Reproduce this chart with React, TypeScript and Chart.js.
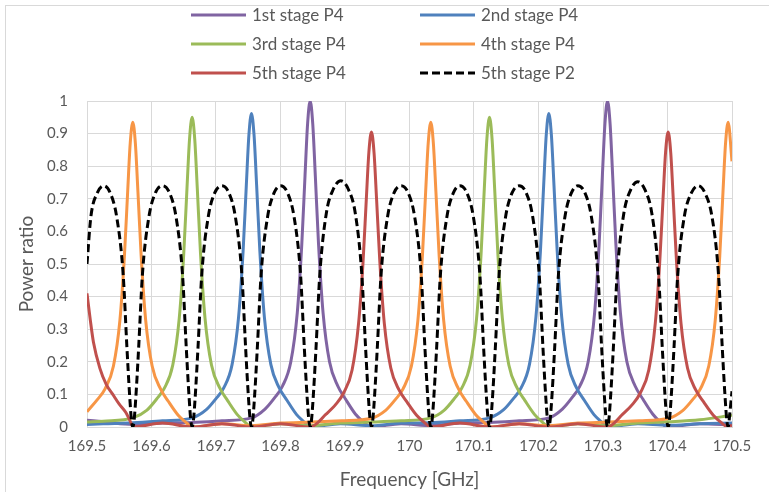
import React, { useEffect, useRef } from "react";
import { Chart, registerables } from "chart.js";

Chart.register(...registerables);

// ---------- data ----------
const xTickLabels = ["169.5", "169.6", "169.7", "169.8", "169.9", "170", "170.1", "170.2", "170.3", "170.4", "170.5"];
const yTickLabels = ["0", "0.1", "0.2", "0.3", "0.4", "0.5", "0.6", "0.7", "0.8", "0.9", "1"];

const seriesLabels = ["1st stage P4", "2nd stage P4", "3rd stage P4", "4th stage P4", "5th stage P4", "5th stage P2"];

const stage1P4: [number, number][] = [
  [169.5, 0.021], [169.53, 0.015], [169.571, 0.008], [169.617, 0.012], [169.663, 0.014], [169.709, 0.019],
  [169.755, 0.028], [169.776, 0.055], [169.791, 0.09], [169.803, 0.125], [169.816, 0.2], [169.826, 0.35],
  [169.833, 0.56], [169.838, 0.77], [169.842, 0.93], [169.846, 1], [169.85, 0.93], [169.854, 0.77],
  [169.859, 0.56], [169.866, 0.35], [169.876, 0.2], [169.889, 0.125], [169.901, 0.085], [169.916, 0.04],
  [169.929, 0.015], [169.94, 0], [169.987, 0.01], [170.033, 0.004], [170.078, 0.012], [170.124, 0.014],
  [170.17, 0.019], [170.216, 0.028], [170.237, 0.055], [170.252, 0.09], [170.264, 0.125], [170.277, 0.2],
  [170.287, 0.35], [170.294, 0.56], [170.299, 0.77], [170.303, 0.93], [170.307, 1], [170.311, 0.93],
  [170.315, 0.77], [170.32, 0.56], [170.327, 0.35], [170.337, 0.2], [170.35, 0.125], [170.362, 0.085],
  [170.377, 0.04], [170.389, 0.015], [170.4, 0], [170.45, 0.01], [170.5, 0.006],
];

const stage2P4: [number, number][] = [
  [169.5, 0.008], [169.525, 0.01], [169.571, 0.013], [169.617, 0.019], [169.663, 0.028], [169.685, 0.053],
  [169.7, 0.087], [169.712, 0.12], [169.725, 0.192], [169.735, 0.337], [169.742, 0.539], [169.747, 0.741],
  [169.751, 0.895], [169.755, 0.962], [169.759, 0.895], [169.763, 0.741], [169.768, 0.539], [169.775, 0.337],
  [169.785, 0.192], [169.798, 0.12], [169.81, 0.082], [169.825, 0.038], [169.837, 0.015], [169.846, 0],
  [169.893, 0.01], [169.941, 0.004], [169.987, 0.012], [170.033, 0.013], [170.078, 0.019], [170.124, 0.028],
  [170.146, 0.053], [170.161, 0.087], [170.173, 0.12], [170.186, 0.192], [170.196, 0.337], [170.203, 0.539],
  [170.208, 0.741], [170.212, 0.895], [170.216, 0.962], [170.22, 0.895], [170.224, 0.741], [170.229, 0.539],
  [170.236, 0.337], [170.246, 0.192], [170.259, 0.12], [170.271, 0.082], [170.286, 0.038], [170.298, 0.015],
  [170.307, 0], [170.354, 0.01], [170.401, 0.005], [170.45, 0.01], [170.5, 0.012],
];

const stage3P4: [number, number][] = [
  [169.5, 0.015], [169.525, 0.018], [169.571, 0.028], [169.593, 0.052], [169.608, 0.086], [169.62, 0.119],
  [169.633, 0.19], [169.643, 0.333], [169.65, 0.532], [169.655, 0.732], [169.659, 0.884], [169.663, 0.95],
  [169.667, 0.884], [169.671, 0.732], [169.676, 0.532], [169.683, 0.333], [169.693, 0.19], [169.706, 0.119],
  [169.718, 0.081], [169.733, 0.038], [169.745, 0.015], [169.755, 0], [169.8, 0.01], [169.846, 0.004],
  [169.893, 0.012], [169.941, 0.015], [169.987, 0.019], [170.033, 0.028], [170.054, 0.052], [170.069, 0.086],
  [170.081, 0.119], [170.094, 0.19], [170.104, 0.333], [170.111, 0.532], [170.116, 0.732], [170.12, 0.884],
  [170.124, 0.95], [170.128, 0.884], [170.132, 0.732], [170.137, 0.532], [170.144, 0.333], [170.154, 0.19],
  [170.167, 0.119], [170.179, 0.081], [170.194, 0.038], [170.206, 0.015], [170.216, 0], [170.261, 0.01],
  [170.307, 0.004], [170.354, 0.012], [170.401, 0.016], [170.45, 0.022], [170.5, 0.036],
];

const stage4P4: [number, number][] = [
  [169.5, 0.047], [169.516, 0.084], [169.528, 0.117], [169.541, 0.187], [169.551, 0.327], [169.558, 0.524],
  [169.563, 0.72], [169.567, 0.87], [169.571, 0.935], [169.575, 0.87], [169.579, 0.72], [169.584, 0.524],
  [169.591, 0.327], [169.601, 0.187], [169.614, 0.117], [169.626, 0.079], [169.641, 0.037], [169.653, 0.015],
  [169.663, 0], [169.709, 0.01], [169.755, 0.004], [169.8, 0.012], [169.849, 0.015], [169.895, 0.019],
  [169.941, 0.027], [169.963, 0.051], [169.978, 0.084], [169.99, 0.117], [170.003, 0.187], [170.013, 0.327],
  [170.02, 0.524], [170.025, 0.72], [170.029, 0.87], [170.033, 0.935], [170.037, 0.87], [170.041, 0.72],
  [170.046, 0.524], [170.053, 0.327], [170.063, 0.187], [170.076, 0.117], [170.088, 0.079], [170.103, 0.037],
  [170.115, 0.015], [170.124, 0], [170.17, 0.01], [170.216, 0.004], [170.261, 0.012], [170.31, 0.015],
  [170.356, 0.019], [170.402, 0.027], [170.424, 0.051], [170.439, 0.084], [170.451, 0.117], [170.464, 0.187],
  [170.474, 0.327], [170.481, 0.524], [170.486, 0.72], [170.49, 0.87], [170.494, 0.935], [170.5, 0.815],
];

const stage5P4: [number, number][] = [
  [169.5, 0.41], [169.505, 0.33], [169.51, 0.26], [169.52, 0.18], [169.53, 0.13], [169.54, 0.1],
  [169.55, 0.07], [169.56, 0.045], [169.566, 0.022], [169.572, 0], [169.617, 0.012], [169.663, 0],
  [169.709, 0.01], [169.755, 0], [169.8, 0.01], [169.846, 0], [169.871, 0.04], [169.886, 0.07],
  [169.898, 0.105], [169.911, 0.175], [169.921, 0.317], [169.928, 0.507], [169.933, 0.697], [169.937, 0.842],
  [169.941, 0.905], [169.945, 0.842], [169.949, 0.697], [169.954, 0.507], [169.961, 0.317], [169.971, 0.181],
  [169.984, 0.113], [169.996, 0.077], [170.011, 0.036], [170.023, 0.014], [170.033, 0], [170.078, 0.012],
  [170.124, 0], [170.17, 0.01], [170.216, 0], [170.261, 0.01], [170.307, 0], [170.331, 0.04],
  [170.346, 0.07], [170.358, 0.105], [170.371, 0.175], [170.381, 0.317], [170.388, 0.507], [170.393, 0.697],
  [170.397, 0.842], [170.401, 0.905], [170.405, 0.842], [170.409, 0.697], [170.414, 0.507], [170.421, 0.317],
  [170.431, 0.181], [170.444, 0.113], [170.456, 0.077], [170.471, 0.036], [170.483, 0.014], [170.494, 0],
  [170.5, 0.006],
];

const stage5P2: [number, number][] = [
  [169.5, 0.5], [169.506, 0.645], [169.516, 0.718], [169.526, 0.74], [169.536, 0.718], [169.546, 0.645],
  [169.556, 0.47], [169.562, 0.24], [169.566, 0.1], [169.569, 0.02], [169.571, 0],
  [169.573, 0.02], [169.576, 0.1], [169.58, 0.24], [169.586, 0.47], [169.596, 0.645], [169.606, 0.718],
  [169.617, 0.74], [169.628, 0.718], [169.638, 0.645], [169.648, 0.47], [169.654, 0.24], [169.658, 0.1],
  [169.661, 0.02], [169.663, 0],
  [169.665, 0.02], [169.668, 0.1], [169.672, 0.24], [169.678, 0.47], [169.688, 0.645], [169.698, 0.718],
  [169.709, 0.74], [169.72, 0.718], [169.73, 0.645], [169.74, 0.47], [169.746, 0.24], [169.75, 0.1],
  [169.753, 0.02], [169.755, 0],
  [169.757, 0.02], [169.76, 0.1], [169.764, 0.24], [169.77, 0.47], [169.78, 0.645], [169.79, 0.718],
  [169.8, 0.74], [169.811, 0.718], [169.821, 0.645], [169.831, 0.47], [169.837, 0.24], [169.841, 0.1],
  [169.844, 0.02], [169.846, 0],
  [169.848, 0.02], [169.851, 0.1], [169.855, 0.24], [169.861, 0.47], [169.871, 0.655], [169.882, 0.73],
  [169.8935, 0.755], [169.905, 0.73], [169.916, 0.655], [169.926, 0.47], [169.932, 0.24], [169.936, 0.1],
  [169.939, 0.02], [169.941, 0],
  [169.943, 0.02], [169.946, 0.1], [169.95, 0.24], [169.956, 0.47], [169.966, 0.645], [169.976, 0.718],
  [169.987, 0.74], [169.998, 0.718], [170.008, 0.645], [170.018, 0.47], [170.024, 0.24], [170.028, 0.1],
  [170.031, 0.02], [170.033, 0],
  [170.035, 0.02], [170.038, 0.1], [170.042, 0.24], [170.048, 0.47], [170.058, 0.645], [170.068, 0.718],
  [170.078, 0.74], [170.089, 0.718], [170.099, 0.645], [170.109, 0.47], [170.115, 0.24], [170.119, 0.1],
  [170.122, 0.02], [170.124, 0],
  [170.126, 0.02], [170.129, 0.1], [170.133, 0.24], [170.139, 0.47], [170.149, 0.645], [170.159, 0.718],
  [170.17, 0.74], [170.181, 0.718], [170.191, 0.645], [170.201, 0.47], [170.207, 0.24], [170.211, 0.1],
  [170.214, 0.02], [170.216, 0],
  [170.218, 0.02], [170.221, 0.1], [170.225, 0.24], [170.231, 0.47], [170.241, 0.645], [170.251, 0.718],
  [170.261, 0.74], [170.272, 0.718], [170.282, 0.645], [170.292, 0.47], [170.298, 0.24], [170.302, 0.1],
  [170.305, 0.02], [170.307, 0],
  [170.309, 0.02], [170.312, 0.1], [170.316, 0.24], [170.322, 0.47], [170.332, 0.652], [170.343, 0.728],
  [170.354, 0.752], [170.365, 0.728], [170.376, 0.652], [170.386, 0.47], [170.392, 0.24], [170.396, 0.1],
  [170.399, 0.02], [170.401, 0],
  [170.403, 0.02], [170.406, 0.1], [170.41, 0.24], [170.416, 0.47], [170.426, 0.645], [170.437, 0.718],
  [170.4475, 0.74], [170.458, 0.718], [170.469, 0.645], [170.479, 0.47], [170.485, 0.24], [170.489, 0.1],
  [170.492, 0.02], [170.494, 0],
  [170.497, 0.05], [170.5, 0.11],
];

const seriesData = [stage1P4, stage2P4, stage3P4, stage4P4, stage5P4, stage5P2];
const seriesColors = ["#8064A2", "#4F81BD", "#9BBB59", "#F79646", "#C0504D", "#000000"];
const seriesDash: number[][] = [[], [], [], [], [], [8, 4]];

// ---------- styling ----------
const TEXT = "#595959";
const GRID = "#d9d9d9";
const FONT = "Lato, 'Open Sans', sans-serif";
const LEGEND_COL_X = [191, 420];
const LEGEND_ROW_Y = [15, 44, 73];

const legendPlugin = {
  id: "gridLegend",
  afterDraw(chart: any) {
    const ctx = chart.ctx;
    ctx.save();
    chart.data.datasets.forEach((ds: any, i: number) => {
      const x0 = LEGEND_COL_X[i % 2];
      const y = LEGEND_ROW_Y[Math.floor(i / 2)];
      ctx.strokeStyle = ds.borderColor;
      ctx.lineWidth = 3;
      ctx.setLineDash(ds.borderDash || []);
      ctx.beginPath();
      ctx.moveTo(x0, y);
      ctx.lineTo(x0 + 55, y);
      ctx.stroke();
      ctx.setLineDash([]);
      ctx.fillStyle = TEXT;
      ctx.font = `17px ${FONT}`;
      ctx.textBaseline = "middle";
      ctx.textAlign = "left";
      ctx.fillText(ds.label, x0 + 61, y + 1);
    });
    ctx.restore();
  },
};

export default function App() {
  const ref = useRef<HTMLCanvasElement | null>(null);

  useEffect(() => {
    if (!ref.current) return;
    const chart = new Chart(ref.current, {
      type: "line",
      data: {
        datasets: seriesData.map((pts, i) => ({
          label: seriesLabels[i],
          data: pts.map(([x, y]) => ({ x, y })),
          borderColor: seriesColors[i],
          backgroundColor: seriesColors[i],
          borderWidth: 3,
          borderDash: seriesDash[i],
          pointRadius: 0,
          fill: false,
          cubicInterpolationMode: "monotone",
          order: seriesData.length - i,
        })),
      },
      options: {
        responsive: false,
        animation: false,
        events: [],
        layout: { padding: { left: 5, right: 37, top: 101, bottom: 0 } },
        plugins: { legend: { display: false }, tooltip: { enabled: false }, title: { display: false } },
        scales: {
          x: {
            type: "linear",
            min: 169.5,
            max: 170.5,
            ticks: {
              stepSize: 0.1,
              autoSkip: false,
              maxRotation: 0,
              padding: 10,
              color: TEXT,
              font: { family: FONT, size: 15 },
              callback: (_v: any, i: number) => xTickLabels[i],
            },
            grid: { color: GRID, drawTicks: false, lineWidth: 1 },
            border: { color: GRID },
            title: {
              display: true,
              text: "Frequency [GHz]",
              color: TEXT,
              font: { family: FONT, size: 19 },
              padding: { top: 0, bottom: 1 },
            },
            afterFit: (s: any) => {
              s.height = 65;
            },
          },
          y: {
            min: 0,
            max: 1,
            ticks: {
              stepSize: 0.1,
              padding: 19,
              color: TEXT,
              font: { family: FONT, size: 15 },
              callback: (_v: any, i: number) => yTickLabels[i],
            },
            grid: { color: GRID, drawTicks: false, lineWidth: 1 },
            border: { color: GRID },
            title: {
              display: true,
              text: "Power ratio",
              color: TEXT,
              font: { family: FONT, size: 19 },
              padding: { top: 10, bottom: 0 },
            },
            afterFit: (s: any) => {
              s.width = 82;
            },
          },
        },
      },
      plugins: [legendPlugin],
    } as any);
    return () => chart.destroy();
  }, []);

  return (
    <div style={{ position: "fixed", left: 0, top: 0, width: 769, height: 492, background: "#fff", overflow: "hidden" }}>
      <div
        style={{
          position: "absolute",
          left: 5,
          top: 5,
          width: 900,
          height: 700,
          border: `1px solid ${GRID}`,
          boxSizing: "border-box",
        }}
      />
      <canvas ref={ref} width={769} height={492} style={{ position: "absolute", left: 0, top: 0 }} />
    </div>
  );
}
